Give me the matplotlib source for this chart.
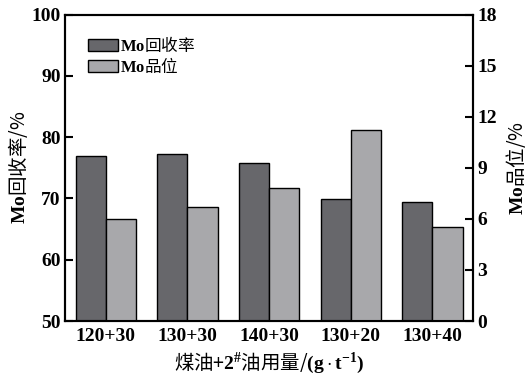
import matplotlib
matplotlib.use("Agg")
import matplotlib.pyplot as plt
import numpy as np

categories = ["120+30", "130+30", "140+30", "130+20", "130+40"]
recovery = [76.9, 77.25, 75.85, 69.9, 69.4]
grade = [6.0, 6.7, 7.8, 11.2, 5.5]

plt.rcParams['font.family'] = ['Liberation Serif', 'Noto Sans CJK SC']
plt.rcParams['mathtext.fontset'] = 'custom'
plt.rcParams['mathtext.rm'] = 'Liberation Serif:bold'
plt.rcParams['mathtext.bf'] = 'Liberation Serif:bold'
plt.rcParams['mathtext.it'] = 'Liberation Serif:bold'

CJK = 'Noto Sans CJK SC'
dark = '#67676b'
light = '#a8a8ab'

fig = plt.figure(figsize=(5.28, 3.74), dpi=100)
ax = fig.add_axes([0.1231, 0.1417, 0.7733, 0.819])
ax2 = ax.twinx()

x = np.arange(len(categories))
w = 0.37
ax.bar(x - w/2, recovery, w, color=dark, edgecolor='black', linewidth=1.0,
       label=r'$\mathbf{Mo}$回收率', zorder=2)
ax2.bar(x + w/2, grade, w, color=light, edgecolor='black', linewidth=1.0,
        label=r'$\mathbf{Mo}$品位', zorder=2)

ax.set_xlim(-0.5, 4.5)
ax.set_ylim(50, 100)
ax2.set_ylim(0, 18)
ax.set_yticks([50, 60, 70, 80, 90, 100])
ax2.set_yticks([0, 3, 6, 9, 12, 15, 18])
ax.set_xticks(x)
ax.set_xticklabels(categories)

for a in (ax, ax2):
    for s in a.spines.values():
        s.set_linewidth(1.5)
    a.tick_params(axis='y', direction='in', length=6, width=1.5, labelsize=14, pad=3)
    for lab in a.get_yticklabels():
        lab.set_fontweight('bold')
ax.tick_params(axis='x', length=0, labelsize=14, pad=5)
for lab in ax.get_xticklabels():
    lab.set_fontweight('bold')

ax.set_ylabel(r'$\mathbf{Mo}$回收率/%', fontsize=14, labelpad=1, family=CJK)
ax2.set_ylabel(r'$\mathbf{Mo}$品位/%', fontsize=14, labelpad=5, family=CJK)
ax.set_xlabel(r'煤油+$\mathbf{2}^{\mathbf{\#}}$油用量/$\mathbf{(g\cdot t^{-1})}$',
              fontsize=14, labelpad=4, family=CJK)

h1, l1 = ax.get_legend_handles_labels()
h2, l2 = ax2.get_legend_handles_labels()
leg = ax2.legend(h1 + h2, l1 + l2, loc='upper left', bbox_to_anchor=(0.056, 0.935),
                 frameon=False, handlelength=1.8, handleheight=0.72,
                 handletextpad=0.15, labelspacing=0.08, borderaxespad=0, borderpad=0,
                 prop={'family': CJK, 'size': 12})
for p in leg.get_patches():
    p.set_linewidth(1.0)

fig.savefig('out.png', dpi=100)
